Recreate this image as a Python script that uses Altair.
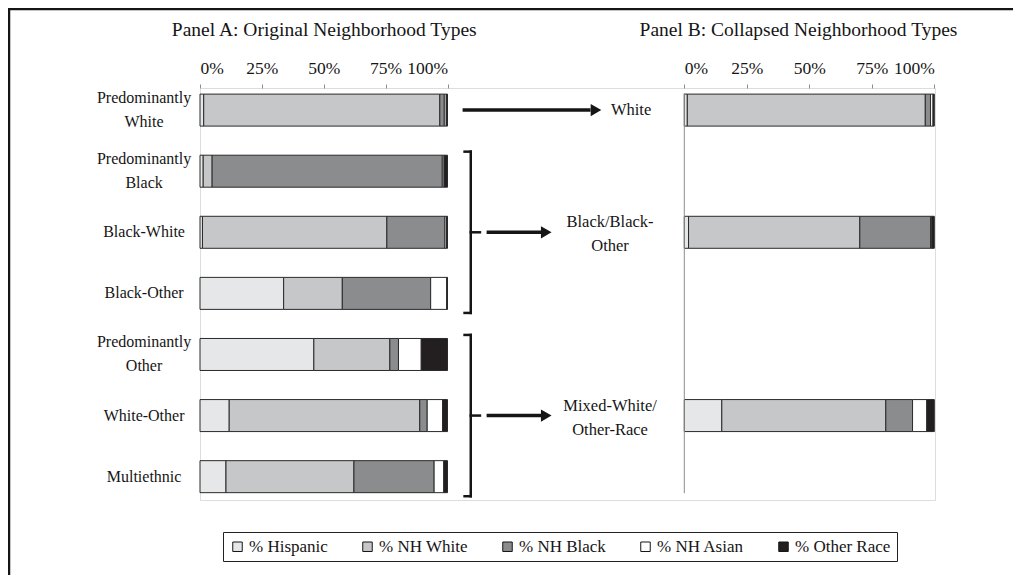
import altair as alt
import pandas as pd

FONT = "Liberation Serif"
INK = "#151515"

# ---------------- data ----------------
races = ["% Hispanic", "% NH White", "% NH Black", "% NH Asian", "% Other Race"]
race_colors = ["#e6e7e8", "#c6c7c9", "#8b8c8e", "#ffffff", "#231f20"]

types_a = ["Predominantly\nWhite", "Predominantly\nBlack", "Black-White", "Black-Other",
           "Predominantly\nOther", "White-Other", "Multiethnic"]
rows_a = [1, 2, 3, 4, 5, 6, 7]
hisp_a = [1.5, 1.3, 1.0, 33.8, 46.0, 11.8, 10.5]
white_a = [95.4, 3.6, 74.5, 23.7, 30.7, 77.0, 51.7]
black_a = [1.8, 93.0, 23.5, 35.7, 3.5, 3.0, 32.4]
asian_a = [0.8, 0.7, 0.6, 6.5, 9.2, 6.2, 3.9]
other_a = [0.5, 1.4, 0.4, 0.3, 10.6, 2.0, 1.5]

types_b = ["White", "Black/Black-\nOther", "Mixed-White/\nOther-Race"]
rows_b = [1, 3, 6]
hisp_b = [1.2, 1.7, 15.0]
white_b = [95.2, 68.5, 65.6]
black_b = [2.1, 28.3, 10.7]
asian_b = [1.0, 0.5, 5.7]
other_b = [0.5, 1.0, 3.0]

title_a = "Panel A: Original Neighborhood Types"
title_b = "Panel B: Collapsed Neighborhood Types"
tick_values = [0, 25, 50, 75, 100]

# brackets: (first row, last row) grouped into a collapsed type
bracket_first = [2, 5]
bracket_last = [4, 7]
bracket_mid = [3, 6]


def long_table(types, rows, cols):
    recs = []
    for i, (t, r) in enumerate(zip(types, rows)):
        for k, race in enumerate(races):
            recs.append({"type": t, "row": r, "race": race, "k": k, "pct": cols[k][i]})
    return pd.DataFrame(recs)


df_a = long_table(types_a, rows_a, [hisp_a, white_a, black_a, asian_a, other_a])
df_b = long_table(types_b, rows_b, [hisp_b, white_b, black_b, asian_b, other_b])

# ---------------- scales ----------------
scA = alt.Scale(domain=[0, 100], range=[0, 247.5], nice=False, zero=False)
scB = alt.Scale(domain=[0, 100], range=[484.3, 734.3], nice=False, zero=False)
scY = alt.Scale(domain=[0.72, 7.3], reverse=True, nice=False, zero=False)

color = alt.Color(
    "race:N",
    scale=alt.Scale(domain=races, range=race_colors),
    legend=alt.Legend(
        orient="none", legendX=23, legendY=444, direction="horizontal", columns=5,
        title=None, symbolType="square", symbolSize=90, symbolStrokeColor=INK,
        symbolStrokeWidth=1, labelFont=FONT, labelFontSize=17, labelColor=INK,
        columnPadding=31, labelOffset=3, strokeColor="#222", fillColor="white",
        padding=6,
    ),
)


def x_axis(title, title_x=None):
    kw = dict(
        orient="top", values=tick_values, labelExpr="datum.value + '%'", domain=False,
        grid=False, ticks=True, tickSize=4, tickColor="#8c8c8c", labelFlush=True,
        labelOverlap=False, labelFont=FONT, labelFontSize=17.5, labelColor=INK,
        labelPadding=7, title=title, titleFont=FONT, titleFontSize=19.5,
        titleFontWeight="normal", titleColor=INK, titlePadding=20,
    )
    if title_x is not None:
        kw["titleX"] = title_x
    return alt.Axis(**kw)


y_axis = alt.Axis(labels=False, ticks=False, grid=False, domain=True,
                  domainColor="#8c8c8c", title=None)

bar_kw = dict(orient="horizontal", size=32, stroke="#2a2a2a", strokeWidth=1)

bars_a = alt.Chart(df_a).mark_bar(**bar_kw).encode(
    x=alt.X("pct:Q", stack="zero", scale=scA, axis=x_axis(title_a)),
    y=alt.Y("row:Q", scale=scY, axis=y_axis),
    color=color,
    order=alt.Order("k:Q"),
)

bars_b = alt.Chart(df_b).mark_bar(**bar_kw).encode(
    x=alt.X("pct:Q", stack="zero", scale=scB, axis=x_axis(title_b, title_x=598)),
    y=alt.Y("row:Q", scale=scY, axis=None),
    color=color,
    order=alt.Order("k:Q"),
)

# panel B vertical axis line
line_b = alt.Chart(pd.DataFrame({"v": [0]})).mark_rule(color="#8c8c8c", strokeWidth=1).encode(
    x=alt.XDatum(0, type="quantitative", scale=scB, axis=None),
    y=alt.YDatum(0.72, type="quantitative", scale=scY, axis=None),
    y2=alt.datum(7.27),
)

text_kw = dict(font=FONT, align="center", baseline="middle",
               lineBreak="\n", lineHeight=24, color=INK)
multi = "indexof(datum.type, '\\n') >= 0"
single = "indexof(datum.type, '\\n') < 0"

# label centres (panel percentage units)
label_x_a = -22.6
label_x_b = [-21.3, -29.7, -29.7]

lab_a_df = pd.DataFrame({"type": types_a, "row": rows_a})
lab_b_df = pd.DataFrame({"type": types_b, "row": rows_b, "lx": label_x_b})


def labels_a(flt, dy):
    return alt.Chart(lab_a_df).transform_filter(flt).mark_text(dy=dy, fontSize=16, **text_kw).encode(
        x=alt.XDatum(label_x_a, type="quantitative", scale=scA, axis=None),
        y=alt.Y("row:Q", scale=scY, axis=None),
        text="type:N",
    )


def labels_b(flt, dy):
    return alt.Chart(lab_b_df).transform_filter(flt).mark_text(dy=dy, fontSize=16.5, **text_kw).encode(
        x=alt.X("lx:Q", scale=scB, axis=None),
        y=alt.Y("row:Q", scale=scY, axis=None),
        text="type:N",
    )


# arrows (in panel A percentage units), one per collapsed type
arrow_start = [106.1, 115.8, 115.8]
arrow_end = [157.8, 137.8, 137.8]
arrow_head = [160.0, 139.9, 139.9]
arrows_df = pd.DataFrame({"row": rows_b, "x0": arrow_start, "x1": arrow_end, "xh": arrow_head})

arrow_lines = alt.Chart(arrows_df).mark_rule(color=INK, strokeWidth=3.5).encode(
    x=alt.X("x0:Q", scale=scA, axis=None),
    x2="x1:Q",
    y=alt.Y("row:Q", scale=scY, axis=None),
)
arrow_heads = alt.Chart(arrows_df).mark_point(
    shape="triangle-right", filled=True, size=150, color=INK, opacity=1
).encode(
    x=alt.X("xh:Q", scale=scA, axis=None),
    y=alt.Y("row:Q", scale=scY, axis=None),
)

# brackets
bx, serif_x, mid_x = 109.4, 106.9, 113.1
segs = []
for f, l, m in zip(bracket_first, bracket_last, bracket_mid):
    top, bot = f - 0.32, l + 0.32
    segs.append({"x0": bx, "x1": bx, "y0": top, "y1": bot})
    segs.append({"x0": serif_x, "x1": bx, "y0": top, "y1": top})
    segs.append({"x0": serif_x, "x1": bx, "y0": bot, "y1": bot})
    segs.append({"x0": bx, "x1": mid_x, "y0": m, "y1": m})
brackets = alt.Chart(pd.DataFrame(segs)).mark_rule(color=INK, strokeWidth=2.5, strokeCap="square").encode(
    x=alt.X("x0:Q", scale=scA, axis=None),
    x2="x1:Q",
    y=alt.Y("y0:Q", scale=scY, axis=None),
    y2="y1:Q",
)

# outer frame (top and left edges)
frame_df = pd.DataFrame({"v": [0]})
frame_top = alt.Chart(frame_df).mark_rule(color=INK, strokeWidth=2.5).encode(
    x=alt.value(-192), x2=alt.value(813), y=alt.value(-79)
)
frame_left = alt.Chart(frame_df).mark_rule(color=INK, strokeWidth=2.5).encode(
    x=alt.value(-191), y=alt.value(-80), y2=alt.value(487)
)

chart = alt.layer(
    bars_a, bars_b, line_b,
    labels_a(single, 0), labels_a(multi, -12),
    labels_b(single, 0), labels_b(multi, -10),
    arrow_lines, arrow_heads, brackets,
    frame_top, frame_left,
).resolve_scale(x="independent").properties(
    width=735, height=412,
    autosize=alt.AutoSizeParams(type="none"),
    padding={"left": 192, "top": 80, "right": 78, "bottom": 75},
).configure_view(stroke=None).configure(background="white")

chart.save("out.html", embed_options={"renderer": "svg", "actions": False})
